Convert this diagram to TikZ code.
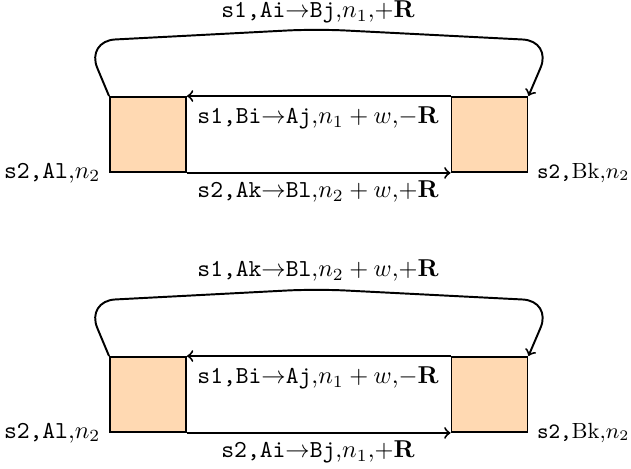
\documentclass[tikz,border=0pt]{standalone}
\begin{document}
\begin{tikzpicture}[x=0.41pt,y=-0.41pt,
  box/.style={draw,thick,fill=orange!30,minimum width=31.16pt,minimum height=30.75pt,inner sep=0pt},
  conn/.style={thick,->},
  loopconn/.style={thick,->,rounded corners=12pt},
  lbl/.style={inner sep=0pt,anchor=base},
  lblleft/.style={anchor=east},
  lblright/.style={anchor=west,font=\small}]
\useasboundingbox (0,0) rectangle (631,469);
% ---------- upper diagram ----------
\node[box] (L1) at (148,134.5) {};
\node[box] (R1) at (489.5,134.5) {};
\coordinate (p1) at (86,41);
\coordinate (q1) at (316,29);
\coordinate (r1) at (552,41);
\draw[loopconn] (L1.north west) -- (p1) -- (q1) -- (r1) -- (R1.north east);
\draw[conn] (R1.north west) -- (L1.north east);
\draw[conn] (L1.south east) -- (R1.south west);
\node[lbl] (t1) at (318,18) {\texttt{s1,Ai}$\rightarrow$\texttt{Bj},$n_1$,$+\mathbf{R}$};
\node[lbl] (m1) at (318,124) {\texttt{s1,Bi}$\rightarrow$\texttt{Aj},$n_1+w$,$-\mathbf{R}$};
\node[lbl] (b1) at (318,198) {\texttt{s2,Ak}$\rightarrow$\texttt{Bl},$n_2+w$,$+\mathbf{R}$};
\node[lblleft] (sl1) at (L1.south west) {\texttt{s2,Al},$n_2$};
\node[lblright] (sr1) at (R1.south east) {\texttt{s2,}Bk,$n_2$};
% ---------- lower diagram ----------
\node[box] (L2) at (148,394.5) {};
\node[box] (R2) at (489.5,394.5) {};
\coordinate (p2) at (86,301);
\coordinate (q2) at (316,289);
\coordinate (r2) at (552,301);
\draw[loopconn] (L2.north west) -- (p2) -- (q2) -- (r2) -- (R2.north east);
\draw[conn] (R2.north west) -- (L2.north east);
\draw[conn] (L2.south east) -- (R2.south west);
\node[lbl] (t2) at (318,277) {\texttt{s1,Ak}$\rightarrow$\texttt{Bl},$n_2+w$,$+\mathbf{R}$};
\node[lbl] (m2) at (318,384) {\texttt{s1,Bi}$\rightarrow$\texttt{Aj},$n_1+w$,$-\mathbf{R}$};
\node[lbl] (b2) at (318,458) {\texttt{s2,Ai}$\rightarrow$\texttt{Bj},$n_1$,$+\mathbf{R}$};
\node[lblleft] (sl2) at (L2.south west) {\texttt{s2,Al},$n_2$};
\node[lblright] (sr2) at (R2.south east) {\texttt{s2,}Bk,$n_2$};
\end{tikzpicture}
\end{document}
